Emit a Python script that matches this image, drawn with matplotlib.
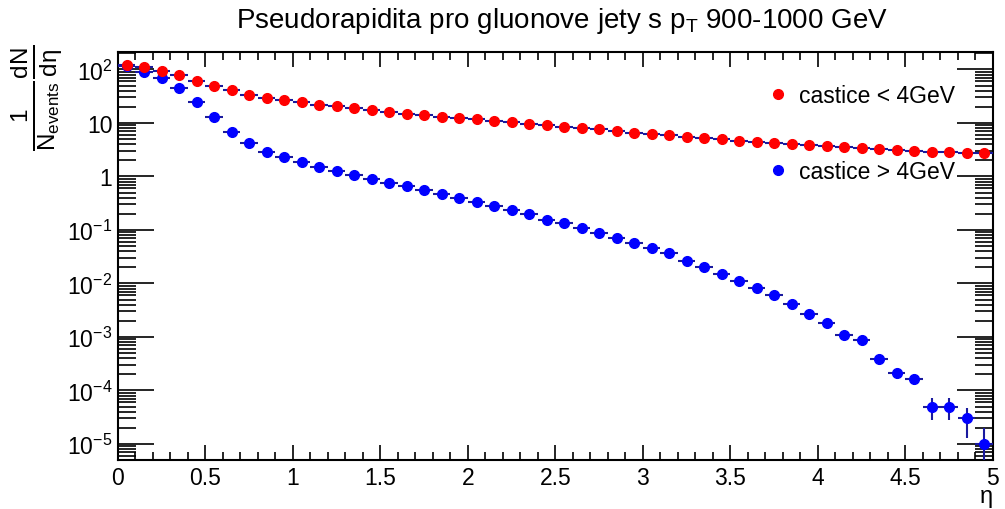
import matplotlib
matplotlib.use("Agg")
import matplotlib.pyplot as plt
from matplotlib.lines import Line2D
from matplotlib.ticker import FixedLocator, LogLocator, MultipleLocator, FuncFormatter, NullFormatter
import numpy as np

plt.rcParams['font.family'] = ['Liberation Sans', 'DejaVu Sans']
plt.rcParams['mathtext.fontset'] = 'custom'
plt.rcParams['mathtext.rm'] = 'Liberation Sans'
plt.rcParams['mathtext.it'] = 'Liberation Sans'
plt.rcParams['mathtext.default'] = 'regular'

# bin centres in eta (bin width 0.1)
eta = [0.05, 0.15, 0.25, 0.35, 0.45, 0.55, 0.65, 0.75, 0.85, 0.95,
       1.05, 1.15, 1.25, 1.35, 1.45, 1.55, 1.65, 1.75, 1.85, 1.95,
       2.05, 2.15, 2.25, 2.35, 2.45, 2.55, 2.65, 2.75, 2.85, 2.95,
       3.05, 3.15, 3.25, 3.35, 3.45, 3.55, 3.65, 3.75, 3.85, 3.95,
       4.05, 4.15, 4.25, 4.35, 4.45, 4.55, 4.65, 4.75, 4.85, 4.95]

# castice < 4GeV
red_vals = [121, 110, 95, 79, 62, 49, 41, 34, 29.7, 26.6,
            24.4, 22.0, 20.4, 18.8, 17.5, 16.3, 14.9, 14.1, 13.1, 12.4,
            11.7, 11.0, 10.3, 9.6, 9.06, 8.53, 8.07, 7.62, 7.08, 6.59,
            6.23, 5.93, 5.54, 5.24, 4.96, 4.67, 4.41, 4.18, 4.0, 3.83,
            3.67, 3.51, 3.37, 3.22, 3.13, 3.0, 2.91, 2.83, 2.75, 2.71]

# castice > 4GeV
blue_vals = [115, 91, 69, 45, 25, 12.8, 6.9, 4.2, 2.9, 2.28,
             1.84, 1.51, 1.26, 1.07, 0.887, 0.766, 0.656, 0.56, 0.477, 0.397,
             0.334, 0.281, 0.233, 0.197, 0.156, 0.133, 0.109, 0.0879, 0.0718, 0.0571,
             0.0455, 0.0364, 0.0267, 0.0203, 0.0151, 0.0113, 0.00813, 0.00618, 0.00408, 0.00266,
             0.00185, 0.00109, 0.000867, 0.000383, 0.00021, 0.000166, 5.0e-5, 5.0e-5, 3.0e-5, 1.0e-5]

blue_err = [0] * 40 + [1.4e-4, 1.0e-4, 9.3e-5, 6.2e-5, 4.6e-5, 4.1e-5,
                       2.24e-5, 2.24e-5, 1.73e-5, 0.999e-5]

y_decades = [1e-5, 1e-4, 1e-3, 1e-2, 1e-1, 1, 10, 100]

navy = '#1a1a9e'

fig = plt.figure(figsize=(10.05, 5.10), dpi=100)
ax = fig.add_axes([0.1174, 0.096, 0.8706, 0.80])

ax.errorbar(eta, blue_vals, xerr=0.05, yerr=blue_err, fmt='o', color='#0000ff',
            ms=7, ecolor=navy, elinewidth=1.5, capsize=0, zorder=3)
ax.errorbar(eta, red_vals, xerr=0.05, fmt='o', color='#ff0000',
            ms=7, ecolor=navy, elinewidth=1.5, capsize=0, zorder=4)

ax.set_yscale('log')
ax.set_xlim(0, 5)
ax.set_ylim(5.0e-6, 212)

ax.xaxis.set_major_locator(FixedLocator(np.arange(0, 5.01, 0.5)))
ax.xaxis.set_minor_locator(MultipleLocator(0.1))
ax.xaxis.set_major_formatter(FuncFormatter(lambda v, p: '%g' % v))

def ylab(v, p):
    e = int(round(np.log10(v)))
    if e == 0:
        return '1'
    if e == 1:
        return '10'
    return r'$10^{%d}$' % e

ax.yaxis.set_major_locator(FixedLocator(y_decades))
ax.yaxis.set_minor_locator(LogLocator(base=10, subs=np.arange(2, 10), numticks=100))
ax.yaxis.set_major_formatter(FuncFormatter(ylab))
ax.yaxis.set_minor_formatter(NullFormatter())

ax.tick_params(axis='both', which='both', direction='in', top=True, right=True,
               labelsize=16.5, width=1.2, colors='black')
ax.tick_params(axis='x', which='major', length=11, pad=4)
ax.tick_params(axis='x', which='minor', length=6)
ax.tick_params(axis='y', which='major', length=26, pad=4)
ax.tick_params(axis='y', which='minor', length=13)
for s in ax.spines.values():
    s.set_linewidth(1.5)

fig.text(0.559, 0.958, r'Pseudorapidita pro gluonove jety s p$_T$ 900-1000 GeV',
         ha='center', va='center', fontsize=20)
fig.text(0.981, 0.022, r'$\eta$', ha='center', va='center', fontsize=17)
fig.text(0.037, 0.808, r'$\frac{1}{N_{events}}\frac{dN}{d\eta}$', rotation=90,
         ha='center', va='center', fontsize=25)

handles = [Line2D([], [], ls='', marker='o', color='#ff0000', ms=7),
           Line2D([], [], ls='', marker='o', color='#0000ff', ms=7)]
fig.legend(handles, ['castice < 4GeV', 'castice > 4GeV'], loc='upper left',
           bbox_to_anchor=(769 / 1005, 1 - 85 / 510), frameon=False,
           fontsize=16.5, handlelength=0.8, handletextpad=0.5,
           labelspacing=2.3, borderpad=0, borderaxespad=0)

fig.savefig('out.png', dpi=100)
